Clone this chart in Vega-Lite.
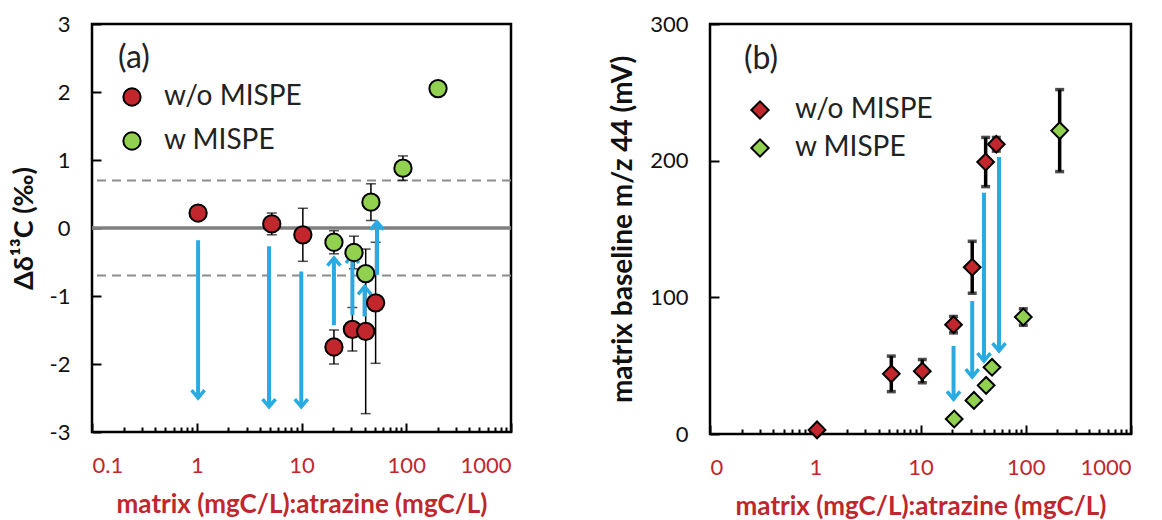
{
  "$schema": "https://vega.github.io/schema/vega-lite/v6.json",
  "padding": {"left": 8, "top": 11, "right": 0, "bottom": 0},
  "background": "white",
  "config": {
    "font": "Lato",
    "view": {"stroke": "black", "strokeWidth": 2.5},
    "axis": {"grid": false, "domain": false, "tickColor": "black", "tickWidth": 2, "labelFont": "Lato", "titleFont": "Lato"}
  },
  "datasets": {
    "a_ref": [{"y": 0}, {"y": 0.7}, {"y": -0.7}],
    "a_pts": [
      {"series": "w/o MISPE", "x": 1.03, "y": 0.22, "e": 0.03},
      {"series": "w/o MISPE", "x": 5.2, "y": 0.06, "e": 0.16},
      {"series": "w/o MISPE", "x": 10.3, "y": -0.1, "e": 0.39},
      {"series": "w/o MISPE", "x": 20.4, "y": -1.75, "e": 0.25},
      {"series": "w/o MISPE", "x": 30.6, "y": -1.49, "e": 0.32},
      {"series": "w/o MISPE", "x": 41, "y": -1.52, "e": 1.21},
      {"series": "w/o MISPE", "x": 51, "y": -1.1, "e": 0.89},
      {"series": "w MISPE", "x": 20.4, "y": -0.21, "e": 0.17},
      {"series": "w MISPE", "x": 31.7, "y": -0.36, "e": 0.24},
      {"series": "w MISPE", "x": 41, "y": -0.67, "e": 0.1},
      {"series": "w MISPE", "x": 46, "y": 0.38, "e": 0.27},
      {"series": "w MISPE", "x": 93, "y": 0.88, "e": 0.18},
      {"series": "w MISPE", "x": 201, "y": 2.05, "e": 0.03}
    ],
    "a_arr": [
      {"x": 1.03, "y1": -0.18, "y2": -2.5, "dir": "down"},
      {"x": 4.9, "y1": -0.27, "y2": -2.63, "dir": "down"},
      {"x": 9.95, "y1": -0.64, "y2": -2.63, "dir": "down"},
      {"x": 20.4, "y1": -1.43, "y2": -0.44, "dir": "up"},
      {"x": 30.6, "y1": -1.28, "y2": -0.4, "dir": "up"},
      {"x": 40, "y1": -1.3, "y2": -0.86, "dir": "up"},
      {"x": 52.6, "y1": -0.69, "y2": 0.09, "dir": "up"}
    ],
    "b_pts": [
      {"series": "w/o MISPE", "x": 1.04, "y": 3, "e": 0},
      {"series": "w/o MISPE", "x": 5.28, "y": 44, "e": 13},
      {"series": "w/o MISPE", "x": 10.4, "y": 46, "e": 8.5},
      {"series": "w/o MISPE", "x": 20.6, "y": 80, "e": 6},
      {"series": "w/o MISPE", "x": 31, "y": 122, "e": 19},
      {"series": "w/o MISPE", "x": 41.6, "y": 199, "e": 18},
      {"series": "w/o MISPE", "x": 52.5, "y": 212, "e": 5},
      {"series": "w MISPE", "x": 20.9, "y": 11, "e": 0},
      {"series": "w MISPE", "x": 32.2, "y": 24.6, "e": 0},
      {"series": "w MISPE", "x": 42, "y": 35.6, "e": 0},
      {"series": "w MISPE", "x": 47.8, "y": 48.8, "e": 0},
      {"series": "w MISPE", "x": 94.8, "y": 85.6, "e": 6},
      {"series": "w MISPE", "x": 210, "y": 222, "e": 30}
    ],
    "b_arr": [
      {"x": 20.6, "y1": 64.4, "y2": 25.4, "dir": "down"},
      {"x": 31, "y1": 97.3, "y2": 41.7, "dir": "down"},
      {"x": 40.1, "y1": 176.6, "y2": 53.4, "dir": "down"},
      {"x": 55.7, "y1": 202.7, "y2": 60.7, "dir": "down"}
    ]
  },
  "spacing": 94,
  "resolve": {
    "scale": {"x": "independent", "y": "independent", "color": "independent", "shape": "independent"},
    "legend": {"color": "independent", "shape": "independent"}
  },
  "hconcat": [
    {
      "width": 419,
      "height": 408,
      "resolve": {"axis": {"x": "independent", "y": "independent"}},
      "layer": [
        {
          "data": {"name": "a_ref"},
          "transform": [{"filter": "datum.y == 0"}],
          "mark": {"type": "rule", "color": "#7F7F7F", "strokeWidth": 3.5},
          "encoding": {
            "y": {"field": "y", "type": "quantitative", "scale": {"domain": [-3, 3], "nice": false, "zero": false},
              "axis": {"orient": "left", "values": [-3, -2, -1, 0, 1, 2, 3], "labelExpr": "datum.value < 0 ? '-' + abs(datum.value) : '' + datum.value", "tickSize": -9, "labelFontSize": 22, "labelColor": "#111", "labelPadding": 31,
                "title": "Δδ¹³C (‰)", "titleFontSize": 27, "titleFontWeight": "bold", "titleColor": "#111", "titlePadding": 11}}
          }
        },
        {
          "data": {"name": "a_ref"},
          "transform": [{"filter": "datum.y != 0"}],
          "mark": {"type": "rule", "color": "#8C8C8C", "strokeWidth": 2, "strokeDash": [9, 6]},
          "encoding": {"y": {"field": "y", "type": "quantitative", "axis": null}}
        },
        {
          "data": {"name": "a_pts"},
          "mark": {"type": "errorbar", "ticks": true, "color": "black", "thickness": 1.5, "size": 10},
          "encoding": {
            "x": {"field": "x", "type": "quantitative", "scale": {"type": "log", "domain": [0.1, 1000], "nice": false},
              "axis": {"values": [0.1, 1, 10, 100, 1000], "format": "~g", "orient": "bottom", "tickSize": -9, "labelFontSize": 22, "labelColor": "#C0272D", "labelPadding": 32,
                "title": "matrix (mgC/L):atrazine (mgC/L)", "titleFontSize": 26, "titleFontWeight": "bold", "titleColor": "#C0272D", "titlePadding": 15}},
            "y": {"field": "y", "type": "quantitative", "axis": null},
            "yError": {"field": "e"}
          }
        },
        {
          "data": {"name": "a_arr"},
          "mark": {"type": "rule", "color": "#29ABE2", "strokeWidth": 4},
          "encoding": {
            "x": {"field": "x", "type": "quantitative",
              "axis": {"values": [0.2, 0.3, 0.4, 0.5, 0.6, 0.7, 0.8, 0.9, 2, 3, 4, 5, 6, 7, 8, 9, 20, 30, 40, 50, 60, 70, 80, 90, 200, 300, 400, 500, 600, 700, 800, 900],
                "orient": "bottom", "labels": false, "tickSize": -5, "title": null}},
            "y": {"field": "y1", "type": "quantitative", "axis": null},
            "y2": {"field": "y2"}
          }
        },
        {
          "data": {"name": "a_arr"},
          "mark": {"type": "point", "filled": false, "stroke": "#29ABE2", "strokeWidth": 3.5, "size": 169, "opacity": 1},
          "encoding": {
            "x": {"field": "x", "type": "quantitative", "axis": null},
            "y": {"field": "y2", "type": "quantitative", "axis": null},
            "shape": {"field": "dir", "type": "nominal", "legend": null,
              "scale": {"domain": ["down", "up"], "range": ["M-1,-1.2L0,0L1,-1.2", "M-1,1.2L0,0L1,1.2"]}}
          }
        },
        {
          "data": {"name": "a_pts"},
          "mark": {"type": "point", "filled": true, "shape": "circle", "size": 300, "stroke": "black", "strokeWidth": 2, "opacity": 1},
          "encoding": {
            "x": {"field": "x", "type": "quantitative", "axis": null},
            "y": {"field": "y", "type": "quantitative", "axis": null},
            "color": {"field": "series", "type": "nominal",
              "scale": {"domain": ["w/o MISPE", "w MISPE"], "range": ["#C1272D", "#92D050"]},
              "legend": {"title": "(a)", "orient": "none", "legendX": 26, "legendY": 19, "padding": 0,
                "titleFontSize": 32, "titleFontWeight": "normal", "titleColor": "#222", "titlePadding": 8,
                "labelFontSize": 28, "labelColor": "#222", "labelOffset": 18, "symbolOffset": 0, "rowPadding": 16,
                "symbolType": "circle", "symbolSize": 300, "symbolStrokeColor": "black", "symbolStrokeWidth": 2, "symbolOpacity": 1}}
          }
        }
      ]
    },
    {
      "width": 421,
      "height": 410,
      "resolve": {"axis": {"x": "independent", "y": "independent"}},
      "layer": [
        {
          "data": {"name": "b_pts"},
          "mark": {"type": "errorbar", "ticks": true, "color": "black", "thickness": 3.5, "size": 9},
          "encoding": {
            "x": {"field": "x", "type": "quantitative", "scale": {"type": "log", "domain": [0.1, 1000], "nice": false},
              "axis": {"values": [0.1, 1, 10, 100, 1000], "labelExpr": "datum.value < 0.5 ? '0' : format(datum.value, '~g')", "orient": "bottom", "tickSize": -9, "labelFontSize": 22, "labelColor": "#C0272D", "labelPadding": 32,
                "title": "matrix (mgC/L):atrazine (mgC/L)", "titleFontSize": 26, "titleFontWeight": "bold", "titleColor": "#C0272D", "titlePadding": 15}},
            "y": {"field": "y", "type": "quantitative", "scale": {"domain": [0, 300], "nice": false},
              "axis": {"orient": "left", "values": [0, 100, 200, 300], "tickSize": -9, "labelFontSize": 22, "labelColor": "#111", "labelPadding": 31,
                "title": "matrix baseline m/z 44 (mV)", "titleFontSize": 28, "titleFontWeight": "bold", "titleColor": "#111", "titlePadding": 12}},
            "yError": {"field": "e"}
          }
        },
        {
          "data": {"name": "b_arr"},
          "mark": {"type": "rule", "color": "#29ABE2", "strokeWidth": 4},
          "encoding": {
            "x": {"field": "x", "type": "quantitative",
              "axis": {"values": [0.2, 0.3, 0.4, 0.5, 0.6, 0.7, 0.8, 0.9, 2, 3, 4, 5, 6, 7, 8, 9, 20, 30, 40, 50, 60, 70, 80, 90, 200, 300, 400, 500, 600, 700, 800, 900],
                "orient": "bottom", "labels": false, "tickSize": -5, "title": null}},
            "y": {"field": "y1", "type": "quantitative", "axis": null},
            "y2": {"field": "y2"}
          }
        },
        {
          "data": {"name": "b_arr"},
          "mark": {"type": "point", "filled": false, "stroke": "#29ABE2", "strokeWidth": 3.5, "size": 169, "opacity": 1},
          "encoding": {
            "x": {"field": "x", "type": "quantitative", "axis": null},
            "y": {"field": "y2", "type": "quantitative", "axis": null},
            "shape": {"field": "dir", "type": "nominal", "legend": null,
              "scale": {"domain": ["down", "up"], "range": ["M-1,-1.2L0,0L1,-1.2", "M-1,1.2L0,0L1,1.2"]}}
          }
        },
        {
          "data": {"name": "b_pts"},
          "mark": {"type": "point", "filled": true, "shape": "diamond", "size": 280, "stroke": "black", "strokeWidth": 2, "opacity": 1},
          "encoding": {
            "x": {"field": "x", "type": "quantitative", "axis": null},
            "y": {"field": "y", "type": "quantitative", "axis": null},
            "color": {"field": "series", "type": "nominal",
              "scale": {"domain": ["w/o MISPE", "w MISPE"], "range": ["#C1272D", "#92D050"]},
              "legend": {"title": "(b)", "orient": "none", "legendX": 34, "legendY": 20, "padding": 0,
                "titleFontSize": 32, "titleFontWeight": "normal", "titleColor": "#222", "titlePadding": 20,
                "labelFontSize": 28, "labelColor": "#222", "labelOffset": 21, "symbolOffset": 2, "rowPadding": 10,
                "symbolType": "diamond", "symbolSize": 300, "symbolStrokeColor": "black", "symbolStrokeWidth": 2, "symbolOpacity": 1}}
          }
        }
      ]
    }
  ]
}
